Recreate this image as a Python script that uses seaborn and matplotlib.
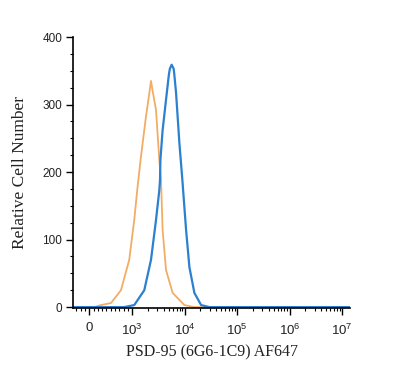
import numpy as np
import pandas as pd
import matplotlib
matplotlib.use("Agg")
import matplotlib.pyplot as plt
import seaborn as sns
from matplotlib.ticker import FixedLocator, FixedFormatter

sns.set_style("ticks")
plt.rcParams['font.family'] = ['Liberation Sans', 'DejaVu Sans']
plt.rcParams['mathtext.fontset'] = 'custom'
plt.rcParams['mathtext.rm'] = 'Liberation Sans'
plt.rcParams['mathtext.it'] = 'Liberation Sans'

# Control (orange) histogram: fluorescence intensity vs relative cell count
control_x = [-373, 116, 272, 505, 737, 930, 1092, 1263, 1467, 1826, 2100, 2280, 2450, 2840,
             3283, 3538, 3797, 4405, 5900, 9860, 15300, 1.42e7]
control_y = [0, 0, 3, 6, 25, 70, 129, 178, 223, 282, 315, 335, 320, 292,
             218, 188, 114, 55, 21, 3, 0, 0]

# PSD-95 stained (blue) histogram
stained_x = [-373, 814, 1092, 1696, 2278, 2838, 3281, 3385, 3443, 3794, 4405, 4990, 5212,
             5635, 6166, 6354, 6851, 7925, 9036, 10640, 12310, 15320, 20580, 29600, 1.42e7]
stained_y = [0, 0, 3, 25, 70, 129, 173, 188, 218, 262, 307, 344, 353,
             359, 353, 344, 317, 243, 188, 114, 59, 21, 3, 0, 0]

xtick_vals = [0, 1e3, 1e4, 1e5, 1e6, 1e7]
xtick_labels = ["0", r"$\mathregular{10^{3}}$", r"$\mathregular{10^{4}}$",
                r"$\mathregular{10^{5}}$", r"$\mathregular{10^{6}}$", r"$\mathregular{10^{7}}$"]
ytick_vals = [0, 100, 200, 300, 400]

df_c = pd.DataFrame({"x": control_x, "y": control_y})
df_s = pd.DataFrame({"x": stained_x, "y": stained_y})

fig = plt.figure(figsize=(4.0, 3.78), dpi=100)
ax = fig.add_axes([0.183, 0.184, 0.692, 0.718])

sns.lineplot(data=df_c, x="x", y="y", color="#F2AC64", lw=1.3, ax=ax, sort=False)
sns.lineplot(data=df_s, x="x", y="y", color="#2B80CF", lw=1.6, ax=ax, sort=False)

ax.set_xscale("symlog", linthresh=1000, linscale=0.738)
ax.set_xlim(-373, 1.42e7)
ax.set_ylim(-2, 400)

ax.xaxis.set_major_locator(FixedLocator(xtick_vals))
ax.xaxis.set_major_formatter(FixedFormatter(xtick_labels))
minor = [-300, -200, -100, 100, 200, 300, 400, 500, 600, 700, 800, 900]
for k in range(3, 7):
    minor += [m * 10 ** k for m in range(2, 10)]
ax.xaxis.set_minor_locator(FixedLocator(minor))

ax.yaxis.set_major_locator(FixedLocator(ytick_vals))
ax.yaxis.set_minor_locator(FixedLocator(np.arange(0, 401, 25)))

for s in ["top", "right"]:
    ax.spines[s].set_visible(False)
for s in ["left", "bottom"]:
    ax.spines[s].set_color("black")
    ax.spines[s].set_linewidth(1.2)

ax.tick_params(axis="both", which="major", direction="out", length=5, width=1,
               color="black", labelcolor="#222222")
ax.tick_params(axis="both", which="minor", direction="out", length=2.5, width=0.8,
               color="black")
ax.tick_params(axis="x", which="major", pad=5, labelsize=9.5)
ax.tick_params(axis="y", which="major", pad=3, labelsize=8.5)

ax.set_xlabel("PSD-95 (6G6-1C9) AF647", family=["Liberation Serif", "DejaVu Serif"],
              fontsize=11.5, color="#222222", labelpad=5)
ax.set_ylabel("Relative Cell Number", family=["Liberation Serif", "DejaVu Serif"],
              fontsize=12.5, color="#222222", labelpad=10)

fig.savefig("out.png", dpi=100)
